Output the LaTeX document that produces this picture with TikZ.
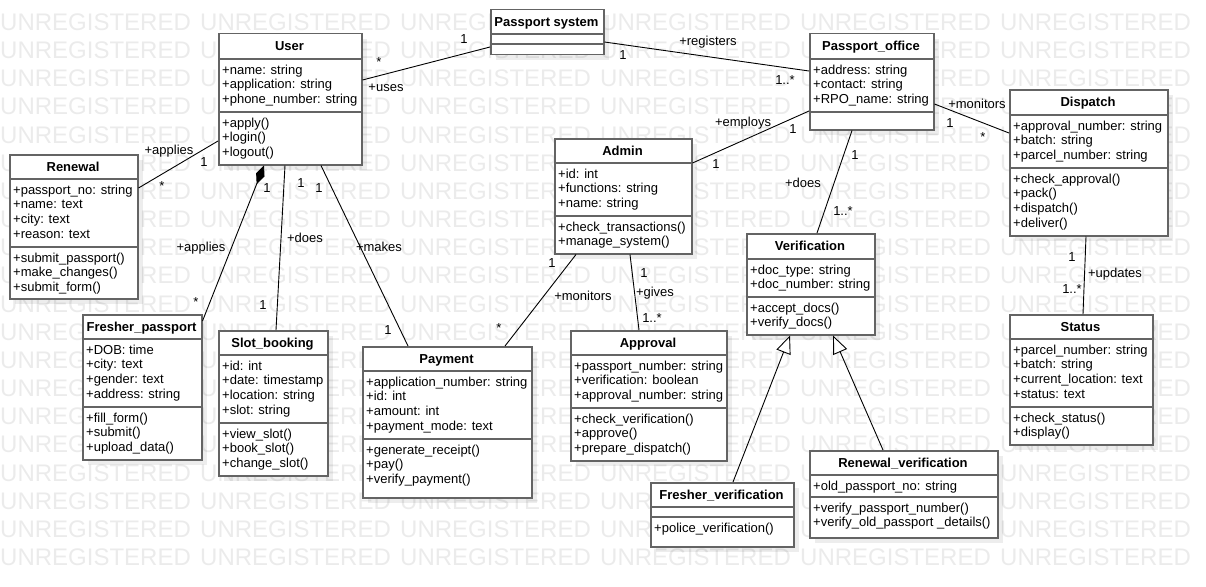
\documentclass[tikz,border=0pt]{standalone}
\usepackage{fontspec}
\setmainfont{Liberation Sans}
\usepackage{tikz}
\usetikzlibrary{arrows.meta, shadows}
\usepackage{xcolor}

\definecolor{boxgray}{RGB}{100,100,100}
\definecolor{markgray}{RGB}{235,235,235}

\tikzset{
  classbox/.style={draw=boxgray, line width=1.5pt, fill=white, anchor=north west, inner sep=0pt,
    drop shadow={shadow xshift=5pt, shadow yshift=-5pt, fill=black, opacity=0.07}},
  classname/.style={anchor=base, inner sep=0pt, font=\bfseries\fontsize{13}{15}\selectfont},
  members/.style={anchor=north west, inner sep=0pt, align=left, font=\fontsize{13}{14.7}\selectfont},
  divider/.style={draw=boxgray, line width=1.5pt},
  assoc/.style={draw=black, line width=0.9pt},
  role/.style={anchor=base, inner sep=0pt, font=\fontsize{13}{15}\selectfont},
  watermark/.style={anchor=base west, inner sep=0pt, text=markgray, font=\fontsize{24}{24}\selectfont},
}

\begin{document}
\begin{tikzpicture}[x=1pt, y=-1pt]
        \useasboundingbox (0,0) rectangle (1206,586);

        % background mark
        \foreach \r in {0,...,19}
          \foreach \c in {0,...,5}
            \node[watermark] (mark-\r-\c) at (\c*200, 30.5+\r*28.16) {UNREGISTERED};

        % Passport system
        \node[classbox, minimum width=113pt, minimum height=45pt] (system) at (490,9) {};
        \node[classname] (system-name) at (546.5,26.2) {Passport system};
        \draw[divider] (system.west |- 0,34) -- (system.east |- 0,34);
        \draw[divider] (system.west |- 0,44) -- (system.east |- 0,44);

        % User
        \node[classbox, minimum width=143pt, minimum height=131pt] (user) at (218,33) {};
        \node[classname] (user-name) at (289.5,50.7) {User};
        \draw[divider] (user.west |- 0,59) -- (user.east |- 0,59);
        \draw[divider] (user.west |- 0,112) -- (user.east |- 0,112);
        \node[members] (user-attr) at (222,63.8) {\strut+name: string\\+application: string\\+phone\_number: string};
        \node[members] (user-ops) at (222,116.8) {\strut+apply()\\+login()\\+logout()};

        % Renewal
        \node[classbox, minimum width=128pt, minimum height=144pt] (renewal) at (9,154) {};
        \node[classname] (renewal-name) at (73,171.2) {Renewal};
        \draw[divider] (renewal.west |- 0,179) -- (renewal.east |- 0,179);
        \draw[divider] (renewal.west |- 0,247) -- (renewal.east |- 0,247);
        \node[members] (renewal-attr) at (13,183.8) {\strut+passport\_no: string\\+name: text\\+city: text\\+reason: text};
        \node[members] (renewal-ops) at (13,251.8) {\strut+submit\_passport()\\+make\_changes()\\+submit\_form()};

        % Fresher_passport
        \node[classbox, minimum width=119pt, minimum height=145pt] (fresher) at (82,314) {};
        \node[classname] (fresher-name) at (141.5,331.2) {Fresher\_passport};
        \draw[divider] (fresher.west |- 0,339) -- (fresher.east |- 0,339);
        \draw[divider] (fresher.west |- 0,407) -- (fresher.east |- 0,407);
        \node[members] (fresher-attr) at (86,343.8) {\strut+DOB: time\\+city: text\\+gender: text\\+address: string};
        \node[members] (fresher-ops) at (86,411.8) {\strut+fill\_form()\\+submit()\\+upload\_data()};

        % Slot_booking
        \node[classbox, minimum width=109pt, minimum height=145pt] (slot) at (218,330) {};
        \node[classname] (slot-name) at (272.5,347.2) {Slot\_booking};
        \draw[divider] (slot.west |- 0,355) -- (slot.east |- 0,355);
        \draw[divider] (slot.west |- 0,423) -- (slot.east |- 0,423);
        \node[members] (slot-attr) at (222,359.8) {\strut+id: int\\+date: timestamp\\+location: string\\+slot: string};
        \node[members] (slot-ops) at (222,427.8) {\strut+view\_slot()\\+book\_slot()\\+change\_slot()};

        % Payment
        \node[classbox, minimum width=169pt, minimum height=151pt] (payment) at (362,346) {};
        \node[classname] (payment-name) at (446.5,363.2) {Payment};
        \draw[divider] (payment.west |- 0,371) -- (payment.east |- 0,371);
        \draw[divider] (payment.west |- 0,439) -- (payment.east |- 0,439);
        \node[members] (payment-attr) at (366,375.8) {\strut+application\_number: string\\+id: int\\+amount: int\\+payment\_mode: text};
        \node[members] (payment-ops) at (366,443.8) {\strut+generate\_receipt()\\+pay()\\+verify\_payment()};

        % Admin
        \node[classbox, minimum width=137pt, minimum height=115pt] (admin) at (554,138) {};
        \node[classname] (admin-name) at (622.5,155.2) {Admin};
        \draw[divider] (admin.west |- 0,163) -- (admin.east |- 0,163);
        \draw[divider] (admin.west |- 0,216) -- (admin.east |- 0,216);
        \node[members] (admin-attr) at (558,167.8) {\strut+id: int\\+functions: string\\+name: string};
        \node[members] (admin-ops) at (558,220.8) {\strut+check\_transactions()\\+manage\_system()};

        % Approval
        \node[classbox, minimum width=156pt, minimum height=130pt] (approval) at (570,330) {};
        \node[classname] (approval-name) at (648,347.2) {Approval};
        \draw[divider] (approval.west |- 0,355) -- (approval.east |- 0,355);
        \draw[divider] (approval.west |- 0,408) -- (approval.east |- 0,408);
        \node[members] (approval-attr) at (574,359.8) {\strut+passport\_number: string\\+verification: boolean\\+approval\_number: string};
        \node[members] (approval-ops) at (574,412.8) {\strut+check\_verification()\\+approve()\\+prepare\_dispatch()};

        % Passport_office
        \node[classbox, minimum width=124pt, minimum height=96pt] (office) at (809,33) {};
        \node[classname] (office-name) at (871,50.7) {Passport\_office};
        \draw[divider] (office.west |- 0,59) -- (office.east |- 0,59);
        \draw[divider] (office.west |- 0,112) -- (office.east |- 0,112);
        \node[members] (office-attr) at (813,63.8) {\strut+address: string\\+contact: string\\+RPO\_name: string};

        % Dispatch
        \node[classbox, minimum width=158pt, minimum height=146pt] (dispatch) at (1009,89) {};
        \node[classname] (dispatch-name) at (1088,106.7) {Dispatch};
        \draw[divider] (dispatch.west |- 0,115) -- (dispatch.east |- 0,115);
        \draw[divider] (dispatch.west |- 0,168) -- (dispatch.east |- 0,168);
        \node[members] (dispatch-attr) at (1013,119.8) {\strut+approval\_number: string\\+batch: string\\+parcel\_number: string};
        \node[members] (dispatch-ops) at (1013,172.8) {\strut+check\_approval()\\+pack()\\+dispatch()\\+deliver()};

        % Status
        \node[classbox, minimum width=143pt, minimum height=130pt] (status) at (1009,314) {};
        \node[classname] (status-name) at (1080.5,331.2) {Status};
        \draw[divider] (status.west |- 0,339) -- (status.east |- 0,339);
        \draw[divider] (status.west |- 0,407) -- (status.east |- 0,407);
        \node[members] (status-attr) at (1013,343.8) {\strut+parcel\_number: string\\+batch: string\\+current\_location: text\\+status: text};
        \node[members] (status-ops) at (1013,411.8) {\strut+check\_status()\\+display()};

        % Verification
        \node[classbox, minimum width=128pt, minimum height=101pt] (verification) at (746,233) {};
        \node[classname] (verification-name) at (810,250.7) {Verification};
        \draw[divider] (verification.west |- 0,259) -- (verification.east |- 0,259);
        \draw[divider] (verification.west |- 0,297) -- (verification.east |- 0,297);
        \node[members] (verification-attr) at (750,263.8) {\strut+doc\_type: string\\+doc\_number: string};
        \node[members] (verification-ops) at (750,301.8) {\strut+accept\_docs()\\+verify\_docs()};

        % Fresher_verification
        \node[classbox, minimum width=143pt, minimum height=64pt] (freshver) at (650,482) {};
        \node[classname] (freshver-name) at (721.5,499.2) {Fresher\_verification};
        \draw[divider] (freshver.west |- 0,507) -- (freshver.east |- 0,507);
        \draw[divider] (freshver.west |- 0,517) -- (freshver.east |- 0,517);
        \node[members] (freshver-ops) at (654,521.8) {\strut+police\_verification()};

        % Renewal_verification
        \node[classbox, minimum width=188pt, minimum height=87pt] (renewver) at (809,450) {};
        \node[classname] (renewver-name) at (903,467.2) {Renewal\_verification};
        \draw[divider] (renewver.west |- 0,475) -- (renewver.east |- 0,475);
        \draw[divider] (renewver.west |- 0,497) -- (renewver.east |- 0,497);
        \node[members] (renewver-attr) at (813,479.8) {\strut+old\_passport\_no: string};
        \node[members] (renewver-ops) at (813,501.8) {\strut+verify\_passport\_number()\\+verify\_old\_passport \_details()};

        % associations
        \draw[assoc] (user.east |- 0,80) -- (system.west |- 0,47);
        \draw[assoc] (system.east |- 0,42) -- (office.west |- 0,71);
        \draw[assoc] (admin.east |- 0,163) -- (office.west |- 0,111);
        \draw[assoc] (office.east |- 0,104) -- (dispatch.west |- 0,133);
        \draw[assoc] (office.south -| 852,0) -- (verification.north -| 817,0);
        \draw[assoc] (dispatch.south -| 1086,0) -- (status.north -| 1083,0);
        \draw[assoc] (user.west |- 0,141) -- (renewal.east |- 0,188);
        \draw[assoc, -{Diamond[length=20pt, width=9pt, fill=black]}] (fresher.east |- 0,321) -- (user.south -| 264,0);
        \draw[assoc] (user.south -| 285,0) -- (slot.north -| 276,0);
        \draw[assoc] (user.south -| 321,0) -- (payment.north -| 408,0);
        \draw[assoc] (admin.south -| 576,0) -- (payment.north -| 505,0);
        \draw[assoc] (admin.south -| 630,0) -- (approval.north -| 639,0);

        % generalizations
        \draw[assoc, -{Triangle[length=18pt, width=15pt, fill=white]}] (freshver.north -| 733,0) -- (verification.south -| 790,0);
        \draw[assoc, -{Triangle[length=18pt, width=15pt, fill=white]}] (renewver.north -| 883,0) -- (verification.south -| 833,0);

        % roles and multiplicities
        \node[role] (uses-many) at (379,66.5) {*};
        \node[role] (uses-label) at (386,91.5) {+uses};
        \node[role] (uses-one) at (464,43.5) {1};
        \node[role] (registers-label) at (708,45.5) {+registers};
        \node[role] (registers-one) at (623,59.5) {1};
        \node[role] (registers-many) at (785,84.5) {1..*};
        \node[role] (employs-label) at (743,126.5) {+employs};
        \node[role] (employs-office) at (793,133.5) {1};
        \node[role] (employs-admin) at (716,168.5) {1};
        \node[role] (monitors-label) at (977,108.5) {+monitors};
        \node[role] (monitors-one) at (950,127.5) {1};
        \node[role] (monitors-many) at (983,141.5) {*};
        \node[role] (does-one) at (855,159.5) {1};
        \node[role] (does-label) at (803,187.5) {+does};
        \node[role] (does-many) at (843,215.5) {1..*};
        \node[role] (updates-one) at (1072,261.5) {1};
        \node[role] (updates-label) at (1115,277.5) {+updates};
        \node[role] (updates-many) at (1072,293.5) {1..*};
        \node[role] (renewal-label) at (169,154.5) {+applies};
        \node[role] (renewal-one) at (204,166.5) {1};
        \node[role] (renewal-many) at (162,190.5) {*};
        \node[role] (fresher-one) at (267,192.5) {1};
        \node[role] (fresher-label) at (201,251.5) {+applies};
        \node[role] (fresher-many) at (196,306.5) {*};
        \node[role] (slot-one) at (301,187.5) {1};
        \node[role] (slot-label) at (305,242.5) {+does};
        \node[role] (slot-other) at (263,309.5) {1};
        \node[role] (makes-one) at (319,192.5) {1};
        \node[role] (makes-label) at (379,251.5) {+makes};
        \node[role] (makes-other) at (388,334.5) {1};
        \node[role] (admin-mon-one) at (552,267.5) {1};
        \node[role] (admin-mon-label) at (583,300.5) {+monitors};
        \node[role] (admin-mon-many) at (499,332.5) {*};
        \node[role] (gives-one) at (644,277.5) {1};
        \node[role] (gives-label) at (655,296.5) {+gives};
        \node[role] (gives-many) at (652,322.5) {1..*};

      \end{tikzpicture}
\end{document}
